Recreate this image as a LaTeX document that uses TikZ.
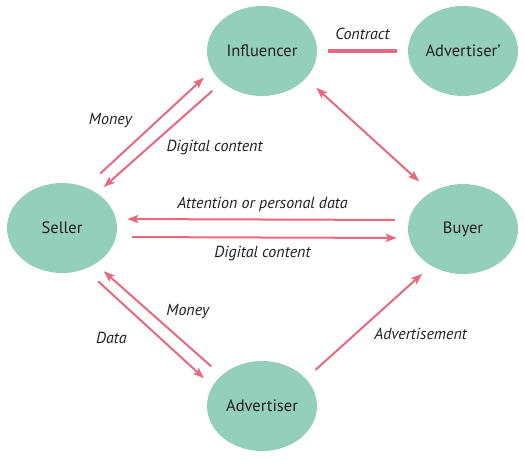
\documentclass[tikz,border=0pt]{standalone}
\usepackage{fontspec}
\setmainfont{PT Sans}
\usetikzlibrary{arrows.meta, shapes, positioning}
\definecolor{nodegruen}{HTML}{93CFBA}
\definecolor{pfeilrot}{HTML}{E8697F}
\definecolor{textgrau}{HTML}{231F20}

\begin{document}
\begin{tikzpicture}[
    x=1pt, y=-1pt,
    >={Stealth[length=11pt, width=8pt, inset=2pt]},
    actor/.style={ellipse, fill=nodegruen, minimum width=110pt,
                  minimum height=90pt, inner sep=0pt, text=textgrau,
                  font=\fontsize{16.5}{19}\selectfont},
    arr/.style={->, line width=2pt, pfeilrot},
    lbl/.style={inner sep=0pt, text=textgrau,
                font=\itshape\fontsize{16}{19}\selectfont}
  ]
  \useasboundingbox (0,0) rectangle (524,460);
  \node[actor] (infl)   at (262,51)  {Influencer};
  \node[actor] (advp)   at (463,51)  {Advertiser’};
  \node[actor] (seller) at (62,228)  {Seller};
  \node[actor] (buyer)  at (463,229) {Buyer};
  \node[actor] (adv)    at (262,406) {Advertiser};

  % top row
  \draw[line width=4pt, pfeilrot, shorten <=11pt, shorten >=11pt]
    (infl.east) -- (advp.west) node[lbl, midway, above=9pt] {Contract};
  \draw[arr, shorten <=20pt, shorten >=11pt]
    (seller.60) -- (infl.201) node[lbl, midway, left=16pt, yshift=8pt] {Money};
  \draw[arr, shorten <=13pt, shorten >=9pt]
    (infl.218) -- (seller.45) node[lbl, midway, anchor=west, xshift=6pt, yshift=-9.5pt] {Digital content};
  \draw[<->, line width=2pt, pfeilrot, shorten <=14pt, shorten >=16pt]
    (infl.-32.5) -- (buyer.131.3);

  % middle row
  \draw[arr, shorten <=13pt, shorten >=10pt]
    ([yshift=9pt]buyer.west) -- ([yshift=9pt]seller.east)
    node[lbl, midway, above=7pt] {Attention or personal data};
  \draw[arr, shorten <=15pt, shorten >=11pt]
    ([yshift=-9pt]seller.east) -- ([yshift=-9pt]buyer.west)
    node[lbl, midway, below=8pt] {Digital content};

  % bottom row
  \draw[arr, shorten <=13.5pt, shorten >=11pt]
    (adv.143.3) -- (seller.-47) node[lbl, midway, anchor=west, xshift=7pt, yshift=8pt] {Money};
  \draw[arr, shorten <=18pt, shorten >=11.5pt]
    (seller.-61.5) -- (adv.158.2) node[lbl, midway, anchor=east, xshift=-21pt, yshift=-10pt] {Data};
  \draw[arr, shorten <=13pt, shorten >=12pt]
    (adv.32.2) -- (buyer.229) node[lbl, midway, anchor=west, xshift=5pt, yshift=-12pt] {Advertisement};
\end{tikzpicture}
\end{document}
